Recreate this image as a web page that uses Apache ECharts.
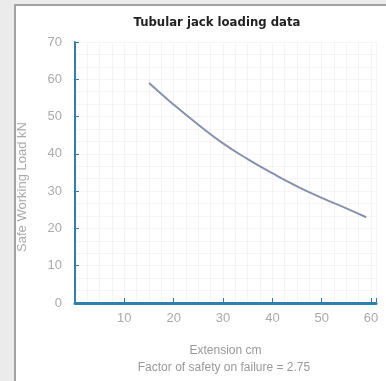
<!DOCTYPE html>
<html>
<head>
<meta charset="utf-8">
<script src="https://cdn.jsdelivr.net/npm/echarts@6/dist/echarts.min.js"></script>
<style>
  html, body { margin: 0; padding: 0; background: #ebebeb; }
  #frame {
    position: absolute; left: 14px; top: 4px; width: 380px; height: 385px;
    background: #ffffff; border-left: 2px solid #a3a3a3; border-top: 2px solid #a3a3a3;
  }
  #chart { position: absolute; left: -16px; top: -6px; width: 386px; height: 381px; }
</style>
</head>
<body>
<div id="frame"><div id="chart"></div></div>
<script>
// extension (cm) vs safe working load (kN)
let extension = [15, 20, 25, 30, 35, 40, 45, 50, 55, 59];
let load = [59, 53.2, 47.8, 42.8, 38.6, 34.8, 31.3, 28.2, 25.4, 23];
let xTicks = [10, 20, 30, 40, 50, 60];
let yTicks = [0, 10, 20, 30, 40, 50, 60, 70];

let points = [];
for (let i = 0; i < extension.length; i++) {
  points.push([extension[i], load[i]]);
}

let chart = echarts.init(document.getElementById('chart'));
let option = {
  animation: false,
  backgroundColor: 'transparent',
  title: {
    text: 'Tubular jack loading data',
    left: 212,
    textAlign: 'center',
    top: 11,
    textStyle: { fontSize: 13, fontWeight: 'bold', color: '#222', fontFamily: 'DejaVu Sans Condensed' }
  },
  graphic: [
    {
      type: 'text', x: 224, y: 368,
      style: { text: 'Factor of safety on failure = 2.75', fill: '#999', font: '12px "Liberation Sans"',
               align: 'center', verticalAlign: 'middle' }
    },
    {
      type: 'text', x: 22, y: 187, rotation: Math.PI / 2,
      style: { text: 'Safe Working Load kN', fill: '#aaa', font: '13px "Liberation Sans"',
               align: 'center', verticalAlign: 'middle' }
    }
  ],
  grid: { left: 75, right: 10, top: 42, bottom: 78 },
  xAxis: {
    type: 'value',
    min: 0,
    max: 61,
    interval: 10,
    name: 'Extension cm',
    nameLocation: 'middle',
    nameGap: 42,
    nameTextStyle: { color: '#999', fontSize: 12, fontFamily: 'Liberation Sans' },
    axisLine: { lineStyle: { color: '#2f7fae', width: 3 } },
    axisTick: { show: true, length: 5, inside: true, lineStyle: { color: '#2f7fae' } },
    axisLabel: {
      color: '#aaa', fontSize: 13, margin: 9, fontFamily: 'Liberation Sans',
      formatter: function (v) { return xTicks.indexOf(v) >= 0 ? String(v) : ''; }
    },
    splitLine: { show: true, lineStyle: { color: '#f4f4f7', width: 1 } },
    minorTick: { show: false, splitNumber: 4 },
    minorSplitLine: { show: true, lineStyle: { color: '#f4f4f7', width: 1 } }
  },
  yAxis: {
    type: 'value',
    min: 0,
    max: 70,
    interval: 10,
    axisLine: { show: true, lineStyle: { color: '#2f7fae', width: 2 } },
    axisTick: { show: true, length: 4, inside: true, lineStyle: { color: '#2f7fae' } },
    axisLabel: {
      color: '#aaa', fontSize: 13, margin: 13, fontFamily: 'Liberation Sans',
      formatter: function (v) { return yTicks.indexOf(v) >= 0 ? String(v) : ''; }
    },
    splitLine: { show: true, lineStyle: { color: '#f4f4f7', width: 1 } },
    minorTick: { show: false, splitNumber: 3 },
    minorSplitLine: { show: true, lineStyle: { color: '#f4f4f7', width: 1 } }
  },
  series: [
    {
      type: 'line',
      data: points,
      smooth: true,
      showSymbol: false,
      lineStyle: { color: '#8a8fae', width: 2 }
    }
  ]
};
chart.setOption(option);
</script>
</body>
</html>
